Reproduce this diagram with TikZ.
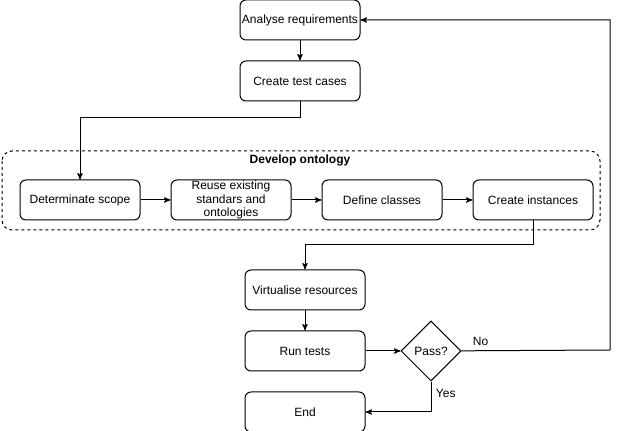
\documentclass[tikz,border=0pt]{standalone}
\usepackage{fontspec}
\setmainfont{Liberation Sans}
\usetikzlibrary{arrows,positioning,shapes.geometric}

\begin{document}
\begin{tikzpicture}[-,>=stealth',auto,x=0.75pt,y=-0.75pt,node distance=15pt,
  line width=0.75pt,font=\fontsize{9}{10}\selectfont,
  main node/.style={rectangle,rounded corners=4.5pt,draw,fill=white,minimum width=90pt,minimum height=30pt,inner ysep=0pt,inner xsep=1pt,align=center},
  test node/.style={diamond,draw,fill=white,minimum width=45pt,minimum height=45pt,aspect=1,inner sep=0pt}]

  \useasboundingbox (0,0) rectangle (619,431);

  % ontology group
  \draw[dashed,dash pattern=on 2.25pt off 2.25pt,rounded corners=7.5pt] (2,151) rectangle (600,230);
  \node[font=\fontsize{9}{10}\selectfont\bfseries] (0) at (300,160) {Develop ontology};

  \node[main node] (1) at (300,20) {Analyse requirements};
  \node[main node] (2) [below=of 1] {Create test cases};
  \node[main node] (3) at (80,200) {Determinate scope};
  \node[main node] (4) [right=22.5pt of 3] {Reuse existing\\standars and\\ontologies};
  \node[main node] (5) [right=22.5pt of 4] {Define classes};
  \node[main node] (6) [right=22.5pt of 5] {Create instances};
  \node[main node] (7) at (305,290) {Virtualise resources};
  \node[main node] (8) [below=of 7] {Run tests};
  \node[test node] (9) [right=26.25pt of 8] {Pass?};
  \node[main node] (10) [below=of 8] {End};

  \coordinate (11) at (80,118);
  \coordinate (12) at (305,245);
  \coordinate (13) at (610,350);

  \path[->]
    (1) edge (2)
    (3) edge (4)
    (4) edge (5)
    (5) edge (6)
    (7) edge (8)
    (8) edge (9);
  \draw[->] (2) |- (11) -- (3);
  \draw[->] (6) |- (12) -- (7);
  \draw[->] (9) -- node[pos=0.13,above] {No} (13) |- (1);
  \draw[->] (9) |- node[pos=0.2,right] {Yes} (10);
\end{tikzpicture}
\end{document}
